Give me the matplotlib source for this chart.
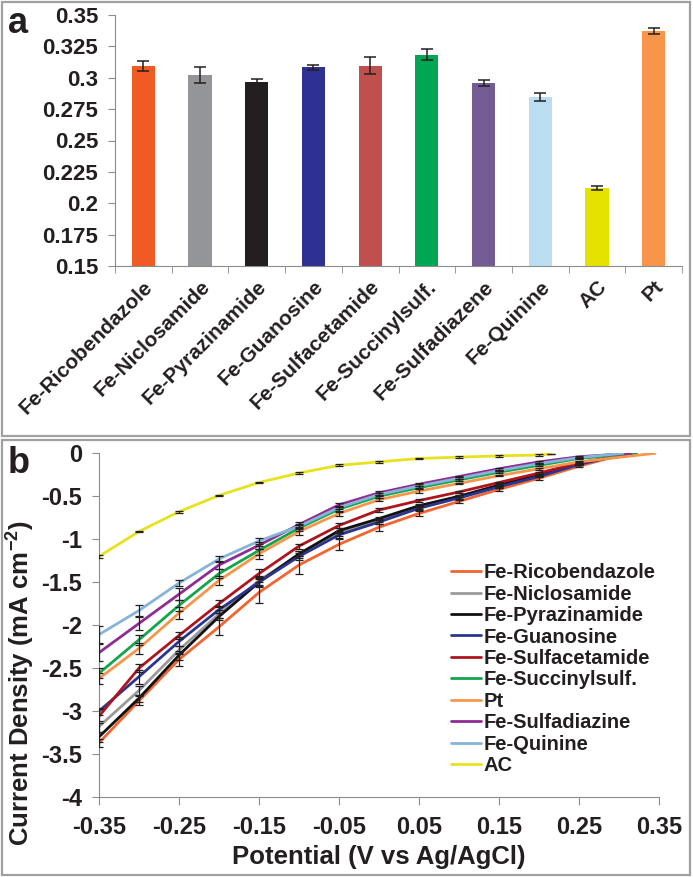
import matplotlib
matplotlib.use("Agg")
import matplotlib.pyplot as plt
from matplotlib.patches import Rectangle
import numpy as np

plt.rcParams["font.family"] = ["Liberation Sans", "DejaVu Sans"]
plt.rcParams["font.weight"] = "bold"
plt.rcParams["mathtext.fontset"] = "custom"
plt.rcParams["mathtext.rm"] = "Liberation Sans:bold"
plt.rcParams["mathtext.bf"] = "Liberation Sans:bold"

# ---- panel a data ----
bar_names = ["Fe-Ricobendazole", "Fe-Niclosamide", "Fe-Pyrazinamide", "Fe-Guanosine",
             "Fe-Sulfacetamide", "Fe-Succinylsulf.", "Fe-Sulfadiazene", "Fe-Quinine", "AC", "Pt"]
bar_vals = [0.3095, 0.3025, 0.297, 0.3085, 0.3097, 0.3185, 0.296, 0.2848, 0.2122, 0.3373]
bar_err = [0.004, 0.0064, 0.0024, 0.002, 0.0069, 0.0044, 0.0025, 0.0033, 0.0017, 0.0027]
bar_colors = ["#F15A22", "#939598", "#231F20", "#2E3192", "#C0504D",
              "#00A651", "#735C93", "#BBDDF2", "#E6E200", "#F7964A"]
a_yticks = [0.15, 0.175, 0.2, 0.225, 0.25, 0.275, 0.3, 0.325, 0.35]
a_ylabels = ["0.15", "0.175", "0.2", "0.225", "0.25", "0.275", "0.3", "0.325", "0.35"]

# ---- panel b data (potential V vs Ag/AgCl, current density mA cm-2) ----
pot = [-0.35, -0.30, -0.25, -0.20, -0.15, -0.10, -0.05, 0.00, 0.05, 0.10, 0.15, 0.20, 0.25]
ricobendazole = [-3.37, -2.88, -2.40, -2.02, -1.62, -1.30, -1.06, -0.86, -0.70, -0.56, -0.42, -0.29, -0.15]
niclosamide = [-3.18, -2.76, -2.29, -1.87, -1.48, -1.18, -0.93, -0.78, -0.63, -0.51, -0.38, -0.26, -0.13]
pyrazinamide = [-3.30, -2.85, -2.35, -1.90, -1.50, -1.17, -0.90, -0.76, -0.61, -0.50, -0.37, -0.25, -0.12]
guanosine = [-3.00, -2.60, -2.19, -1.82, -1.50, -1.20, -0.95, -0.80, -0.64, -0.52, -0.39, -0.27, -0.13]
sulfacetamide = [-3.06, -2.50, -2.12, -1.75, -1.40, -1.08, -0.84, -0.66, -0.55, -0.45, -0.34, -0.23, -0.11]
succinylsulf = [-2.56, -2.17, -1.77, -1.40, -1.13, -0.87, -0.65, -0.50, -0.40, -0.31, -0.22, -0.14, -0.06]
pt = [-2.62, -2.27, -1.86, -1.48, -1.17, -0.91, -0.70, -0.54, -0.44, -0.35, -0.26, -0.18, -0.10]
sulfadiazine = [-2.32, -1.98, -1.64, -1.30, -1.07, -0.83, -0.60, -0.46, -0.36, -0.27, -0.18, -0.10, -0.04]
quinine = [-2.11, -1.83, -1.51, -1.23, -1.02, -0.85, -0.63, -0.48, -0.38, -0.29, -0.20, -0.12, -0.05]
ac_pot = [-0.35, -0.30, -0.25, -0.20, -0.15, -0.10, -0.05, 0.00, 0.05, 0.10, 0.15, 0.20, 0.215]
ac = [-1.20, -0.91, -0.68, -0.49, -0.34, -0.23, -0.14, -0.10, -0.06, -0.045, -0.03, -0.02, -0.01]

# open-circuit end point of each curve (current = 0)
end_pot = {"Fe-Ricobendazole": 0.31, "Fe-Niclosamide": 0.31, "Fe-Pyrazinamide": 0.315,
           "Fe-Guanosine": 0.31, "Fe-Sulfacetamide": 0.32, "Fe-Succinylsulf.": 0.322,
           "Pt": 0.345, "Fe-Sulfadiazine": 0.315, "Fe-Quinine": 0.305}

err_rico = [0.05, 0.05, 0.08, 0.10, 0.12, 0.10, 0.06, 0.04, 0.03, 0.02, 0.02, 0.02, 0.01]
err_nicl = [0.06, 0.05, 0.05, 0.05, 0.05, 0.04, 0.03, 0.02, 0.02, 0.02, 0.01, 0.01, 0.01]
err_pyra = [0.06, 0.04, 0.05, 0.04, 0.04, 0.03, 0.03, 0.02, 0.02, 0.01, 0.01, 0.01, 0.01]
err_guan = [0.04, 0.08, 0.05, 0.04, 0.06, 0.04, 0.03, 0.02, 0.02, 0.01, 0.01, 0.01, 0.01]
err_sulfa = [0.08, 0.05, 0.04, 0.04, 0.05, 0.03, 0.03, 0.02, 0.02, 0.01, 0.01, 0.01, 0.01]
err_succ = [0.06, 0.06, 0.06, 0.05, 0.05, 0.04, 0.03, 0.02, 0.02, 0.01, 0.01, 0.01, 0.01]
err_pt = [0.06, 0.06, 0.07, 0.05, 0.06, 0.04, 0.03, 0.02, 0.02, 0.01, 0.01, 0.01, 0.01]
err_sdz = [0.10, 0.08, 0.07, 0.05, 0.04, 0.03, 0.02, 0.02, 0.02, 0.01, 0.01, 0.01, 0.01]
err_quin = [0.10, 0.06, 0.04, 0.04, 0.04, 0.03, 0.02, 0.02, 0.02, 0.01, 0.01, 0.01, 0.01]
err_ac = [0.02, 0.01, 0.01, 0.01, 0.01, 0.01, 0.01, 0.01, 0.01, 0.01, 0.01, 0.01, 0.0]

series = [
    ("Fe-Ricobendazole", pot, ricobendazole, err_rico, "#F26530"),
    ("Fe-Niclosamide", pot, niclosamide, err_nicl, "#9A9A9A"),
    ("Fe-Pyrazinamide", pot, pyrazinamide, err_pyra, "#111111"),
    ("Fe-Guanosine", pot, guanosine, err_guan, "#2B3590"),
    ("Fe-Sulfacetamide", pot, sulfacetamide, err_sulfa, "#B0151E"),
    ("Fe-Succinylsulf.", pot, succinylsulf, err_succ, "#12A54A"),
    ("Pt", pot, pt, err_pt, "#F7964A"),
    ("Fe-Sulfadiazine", pot, sulfadiazine, err_sdz, "#8E2C92"),
    ("Fe-Quinine", pot, quinine, err_quin, "#86B4D8"),
    ("AC", ac_pot, ac, err_ac, "#E8E21E"),
]

GRAY = "#8C8C8C"
TXT = "#231F20"

fig = plt.figure(figsize=(6.93, 8.77), dpi=100)

# panel frames
for (x0, y0, x1, y1) in [(2, 2, 690, 436), (2, 440, 690, 875)]:
    fig.patches.append(Rectangle((x0 / 693, 1 - y1 / 877), (x1 - x0) / 693, (y1 - y0) / 877,
                                 transform=fig.transFigure, fill=False, edgecolor="#A0A0A0", lw=1.6))

# ---- panel a ----
axa = fig.add_axes([115 / 693, 1 - 266 / 877, (682 - 115) / 693, (266 - 15) / 877])
x = np.arange(len(bar_names))
axa.bar(x, [v - 0.15 for v in bar_vals], 0.41, bottom=0.15, color=bar_colors, zorder=2)
axa.errorbar(x, bar_vals, yerr=bar_err, fmt="none", ecolor=TXT, elinewidth=1.1, capsize=4, capthick=1.1, zorder=3)
axa.set_xlim(-0.5, len(bar_names) - 0.5)
axa.set_ylim(0.15, 0.35)
axa.set_yticks(a_yticks)
axa.set_yticklabels(a_ylabels, fontsize=16, fontweight="bold", color=TXT)
axa.set_xticks(x)
axa.set_xticklabels(bar_names, fontsize=15, fontweight="bold", color=TXT, rotation=45,
                    ha="right", rotation_mode="anchor")
axa.set_xticks(np.arange(-0.5, len(bar_names)), minor=True)
axa.tick_params(axis="x", which="major", length=0, pad=8)
axa.tick_params(axis="x", which="minor", length=5, color=GRAY, direction="out")
axa.tick_params(axis="y", length=5, color=GRAY, pad=7)
for s in ["top", "right"]:
    axa.spines[s].set_visible(False)
for s in ["left", "bottom"]:
    axa.spines[s].set_color(GRAY)
fig.text(8 / 693, 1 - 33 / 877, "a", fontsize=26, fontweight="bold", color=TXT, va="baseline")

# ---- panel b ----
axb = fig.add_axes([99 / 693, 1 - 797 / 877, (659 - 99) / 693, (797 - 453.3) / 877])
for name, xs, ys, es, col in series:
    xx = list(xs)
    yy = list(ys)
    if name in end_pot:
        xx = xx + [end_pot[name]]
        yy = yy + [0.0]
    axb.plot(xx, yy, color=col, lw=2.0, label=name, zorder=2, solid_capstyle="round")
    axb.errorbar(xs, ys, yerr=es, fmt="none", ecolor=TXT, elinewidth=0.9, capsize=3, capthick=0.9, zorder=3)
axb.set_xlim(-0.35, 0.35)
axb.set_ylim(-4, 0)
axb.set_xticks(np.round(np.arange(-0.35, 0.36, 0.1), 2))
axb.set_xticklabels(["-0.35", "-0.25", "-0.15", "-0.05", "0.05", "0.15", "0.25", "0.35"],
                    fontsize=17, fontweight="bold", color=TXT)
axb.set_yticks(np.arange(-4, 0.01, 0.5))
axb.set_yticklabels(["-4", "-3.5", "-3", "-2.5", "-2", "-1.5", "-1", "-0.5", "0"],
                    fontsize=17, fontweight="bold", color=TXT)
axb.tick_params(axis="x", length=6, color=GRAY, pad=8)
axb.tick_params(axis="y", length=5, color=GRAY, pad=7)
for s in ["top", "right"]:
    axb.spines[s].set_visible(False)
for s in ["left", "bottom"]:
    axb.spines[s].set_color(GRAY)
axb.set_xlabel("Potential (V vs Ag/AgCl)", fontsize=18.5, fontweight="bold", color=TXT, labelpad=4)
axb.set_ylabel("Current Density (mA cm$^{-2}$)", fontsize=18.5, fontweight="bold", color=TXT)
axb.yaxis.set_label_coords(-0.113, 0.33)
leg = axb.legend(loc="upper left", bbox_to_anchor=(0.628, 0.68), frameon=False, fontsize=14.5,
                 handlelength=1.5, handletextpad=0.15, labelspacing=0.12, borderpad=0, borderaxespad=0)
for t in leg.get_texts():
    t.set_color(TXT)
fig.text(8 / 693, 1 - 473 / 877, "b", fontsize=26, fontweight="bold", color=TXT, va="baseline")

fig.savefig("out.png", dpi=100)
